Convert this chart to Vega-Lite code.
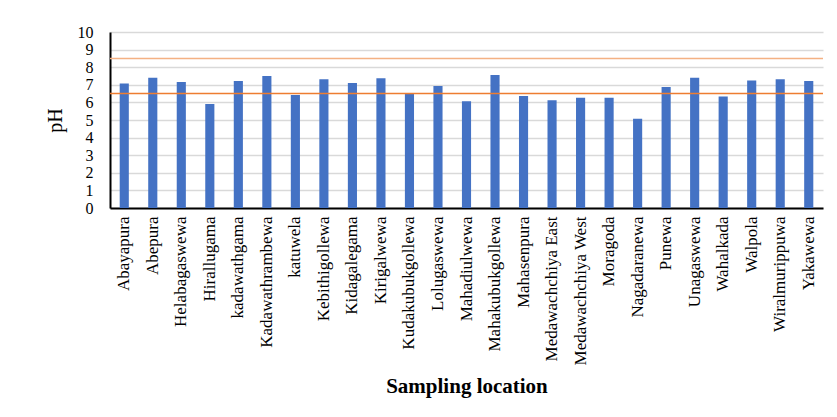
{
  "$schema": "https://vega.github.io/schema/vega-lite/v6.json",
  "width": 713,
  "height": 176,
  "autosize": {"type": "none"},
  "padding": {"left": 110, "top": 32, "right": 14, "bottom": 209},
  "background": "white",
  "config": {
    "view": {"stroke": null},
    "font": "Liberation Serif",
    "style": {
      "guide-label": {"font": "Liberation Serif", "fontSize": 16, "fill": "black"},
      "guide-title": {"font": "Liberation Serif"}
    },
    "axisLeft": {
      "labelFont": "Liberation Serif",
      "labelFontSize": 16,
      "labelColor": "black",
      "labelPadding": 17,
      "labelOverlap": false,
      "labelFlush": false,
      "ticks": false,
      "domainColor": "black",
      "domainWidth": 2,
      "grid": true,
      "gridColor": "#d9d9d9",
      "gridWidth": 1.5,
      "titleFont": "Liberation Serif",
      "titleFontSize": 20,
      "titleFontWeight": "normal",
      "titleColor": "black",
      "titlePadding": 12
    }
  },
  "layer": [
    {
      "data": {
        "values": [
          {"location": "Abayapura", "pH": 7.08},
          {"location": "Abepura", "pH": 7.4},
          {"location": "Helabagaswewa", "pH": 7.16},
          {"location": "Hirallugama", "pH": 5.91},
          {"location": "kadawathgama", "pH": 7.22},
          {"location": "Kadawathrambewa", "pH": 7.5},
          {"location": "katuwela", "pH": 6.42},
          {"location": "Kebithigollewa", "pH": 7.31},
          {"location": "Kidagalegama", "pH": 7.1},
          {"location": "Kirigalwewa", "pH": 7.37},
          {"location": "Kudakubukgollewa", "pH": 6.48},
          {"location": "Lolugaswewa", "pH": 6.93},
          {"location": "Mahadiulwewa", "pH": 6.06},
          {"location": "Mahakubukgollewa", "pH": 7.56},
          {"location": "Mahasenpura", "pH": 6.36},
          {"location": "Medawachchiya East", "pH": 6.12},
          {"location": "Medawachchiya West", "pH": 6.27},
          {"location": "Moragoda", "pH": 6.27},
          {"location": "Nagadaranewa", "pH": 5.07},
          {"location": "Punewa", "pH": 6.88},
          {"location": "Unagaswewa", "pH": 7.4},
          {"location": "Wahalkada", "pH": 6.33},
          {"location": "Walpola", "pH": 7.25},
          {"location": "Wiralmurippuwa", "pH": 7.31},
          {"location": "Yakawewa", "pH": 7.22}
        ]
      },
      "mark": {"type": "bar", "color": "#4472C4", "width": {"band": 0.32}},
      "encoding": {
        "x": {
          "field": "location",
          "type": "nominal",
          "sort": null,
          "scale": {"paddingInner": 0, "paddingOuter": 0},
          "axis": {
            "title": "Sampling location",
            "titleFont": "Liberation Serif",
            "titleFontSize": 21,
            "titleFontWeight": "bold",
            "titleColor": "black",
            "titlePadding": 10,
            "labelAngle": -90,
            "labelFont": "Liberation Serif",
            "labelFontSize": 17,
            "labelColor": "black",
            "labelPadding": 8,
            "labelOverlap": false,
            "ticks": false,
            "domainColor": "black",
            "domainWidth": 2,
            "grid": false
          }
        },
        "y": {
          "field": "pH",
          "type": "quantitative",
          "scale": {"domain": [0, 10], "nice": false},
          "axis": {
            "title": "pH",
            "tickCount": 10,
            "labelOverlap": false,
            "labelFontSize": 16,
            "labelFont": "Liberation Serif",
            "labelPadding": 17,
            "grid": true,
            "gridColor": "#d9d9d9",
            "gridWidth": 1.5
          }
        }
      }
    },
    {
      "data": {
        "values": [
          {"limit": "upper", "pH": 8.5},
          {"limit": "lower", "pH": 6.5}
        ]
      },
      "mark": {"type": "rule", "strokeWidth": 1.5},
      "encoding": {
        "y": {"field": "pH", "type": "quantitative"},
        "color": {
          "field": "limit",
          "type": "nominal",
          "scale": {"domain": ["upper", "lower"], "range": ["#F4B183", "#ED7D31"]},
          "legend": null
        }
      }
    }
  ],
  "resolve": {"axis": {"y": "shared"}}
}
